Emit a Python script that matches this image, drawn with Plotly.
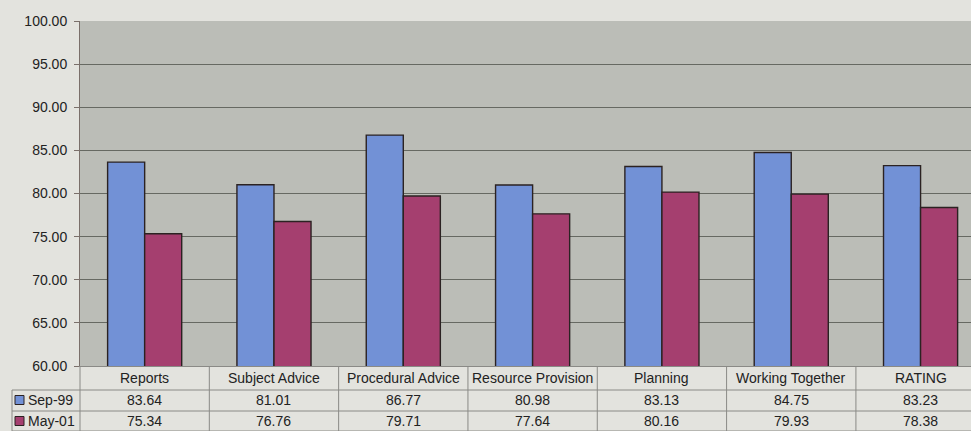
import plotly.graph_objects as go

# Survey scores by service area, two survey waves
categories = ["Reports", "Subject Advice", "Procedural Advice", "Resource Provision",
              "Planning", "Working Together", "RATING"]
series_names = ["Sep-99", "May-01"]
sep99 = [83.64, 81.01, 86.77, 80.98, 83.13, 84.75, 83.23]
may01 = [75.34, 76.76, 79.71, 77.64, 80.16, 79.93, 78.38]
y_ticks = [60, 65, 70, 75, 80, 85, 90, 95, 100]

BLUE = "#7291d6"
RED = "#a53f6f"
PAGE = "#e3e3de"
PLOT_BG = "#bbbdb7"
GRID = "#666962"
TABLE_LINE = "#8a8a86"
TEXT = "#222222"
FONT = "Liberation Sans, Arial, sans-serif"

W, H = 971, 431
L, R, T, B = 80, 0, 21, 65
plot_h = H - T - B
plot_w = W - L - R


def py(pixel_y):
    """Convert a page pixel row to paper y."""
    return (H - B - pixel_y) / plot_h


def px(pixel_x):
    """Convert a page pixel column to paper x."""
    return (pixel_x - L) / plot_w


x_idx = list(range(len(categories)))

fig = go.Figure()
for name, vals, col in [(series_names[0], sep99, BLUE), (series_names[1], may01, RED)]:
    fig.add_trace(go.Bar(
        x=x_idx, y=vals, name=name, base=0,
        marker=dict(color=col, line=dict(color="#2b2222", width=1.4)),
        showlegend=False,
    ))

shapes = []
annotations = []
cell_font = dict(size=14, color=TEXT, family=FONT)

# data table under the axis: header row plus one row per series
row_header_y = py(378)
row_y = [py(400), py(421)]
line_rows = [py(390), py(411), py(431)]

for i, cat in enumerate(categories):
    annotations.append(dict(x=i, y=row_header_y, xref="x", yref="paper", text=cat,
                            xanchor="center", yanchor="middle",
                            showarrow=False, font=cell_font))
    for vals, yy in zip([sep99, may01], row_y):
        annotations.append(dict(x=i, y=yy, xref="x", yref="paper", text=f"{vals[i]:.2f}",
                                xanchor="center", yanchor="middle",
                                showarrow=False, font=cell_font))

# column separators
for k in range(len(categories) - 1):
    shapes.append(dict(type="line", xref="x", yref="paper", x0=k + 0.5, x1=k + 0.5,
                       y0=0, y1=py(440), line=dict(color=TABLE_LINE, width=1)))
# left edge of the value columns
shapes.append(dict(type="line", xref="paper", yref="paper", x0=0, x1=0,
                   y0=0, y1=py(440), line=dict(color=TABLE_LINE, width=1)))
# left edge of the series-label column
shapes.append(dict(type="line", xref="paper", yref="paper", x0=px(12), x1=px(12),
                   y0=py(390), y1=py(440), line=dict(color=TABLE_LINE, width=1)))
# row separators
for yy in line_rows:
    shapes.append(dict(type="line", xref="paper", yref="paper", x0=px(12), x1=1.0,
                       y0=yy, y1=yy, line=dict(color=TABLE_LINE, width=1)))

# series keys in the label column
for name, col, yy in zip(series_names, [BLUE, RED], row_y):
    shapes.append(dict(type="rect", xref="paper", yref="paper",
                       x0=px(15), x1=px(24), y0=yy - 4.5 / plot_h, y1=yy + 4.5 / plot_h,
                       fillcolor=col, line=dict(color="#2b2222", width=1)))
    annotations.append(dict(x=px(26), y=yy, xref="paper", yref="paper", text=name,
                            xanchor="left", yanchor="middle", showarrow=False,
                            font=cell_font))

fig.update_layout(
    width=W, height=H,
    margin=dict(l=L, r=R, t=T, b=B),
    paper_bgcolor=PAGE,
    plot_bgcolor=PLOT_BG,
    barmode="group",
    bargap=0.427,
    bargroupgap=0,
    font=dict(family=FONT, color=TEXT),
    xaxis=dict(range=[-0.5, 6.39], showticklabels=False, ticks="", showgrid=False,
               zeroline=False, showline=True, linecolor=TABLE_LINE, linewidth=1),
    yaxis=dict(range=[60, 100], tickvals=y_ticks, tickformat=".2f",
               tickfont=dict(size=14, color=TEXT, family=FONT),
               showgrid=True, gridcolor=GRID, gridwidth=1, zeroline=False,
               showline=True, linecolor="#7a6f6a", linewidth=1,
               ticks="outside", ticklen=5, tickcolor="#7a6f6a",
               ticklabelstandoff=4),
    shapes=shapes,
    annotations=annotations,
)

fig.write_html("out.html")
